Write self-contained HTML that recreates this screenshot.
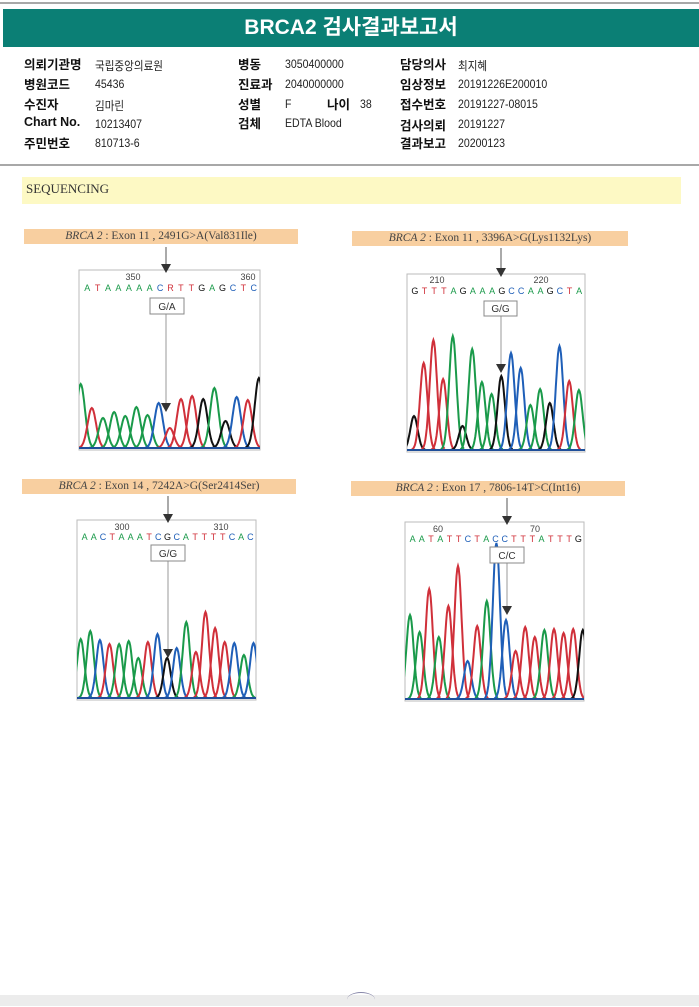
<!DOCTYPE html>
<html><head><meta charset="utf-8">
<style>
body{margin:0;width:699px;height:1006px;background:#fff;position:relative;overflow:hidden;font-family:"Liberation Sans","Noto Sans CJK KR",sans-serif;}
.abs{position:absolute;}
.hl{position:absolute;left:0;width:699px;height:2px;background:#a8a8a8;}
.lab{position:absolute;font-size:12.5px;font-weight:bold;color:#111;white-space:nowrap;}
.val{position:absolute;font-size:12px;color:#222;white-space:nowrap;transform:scaleX(.88);transform-origin:left;}
.cap{position:absolute;height:15px;background:#f8cfa0;font-family:"Liberation Serif",serif;font-size:11.5px;color:#444;text-align:center;line-height:15px;white-space:nowrap;}
.cap i{font-style:italic;}
</style></head><body>
<div class="hl" style="top:2px"></div>
<div class="abs" style="left:3px;top:9px;width:696px;height:38px;background:#0b7f75;color:#fff;font-weight:bold;font-size:21px;text-align:center;line-height:38px;">BRCA2 검사결과보고서</div>

<div>
<div class="lab" style="left:24px;top:54px">의뢰기관명</div><div class="val" style="left:95px;top:57px">국립중앙의료원</div>
<div class="lab" style="left:24px;top:74px">병원코드</div><div class="val" style="left:95px;top:77px">45436</div>
<div class="lab" style="left:24px;top:94px">수진자</div><div class="val" style="left:95px;top:97px">김마린</div>
<div class="lab" style="left:24px;top:115px">Chart No.</div><div class="val" style="left:95px;top:117px">10213407</div>
<div class="lab" style="left:24px;top:133px">주민번호</div><div class="val" style="left:95px;top:136px">810713-6</div>
<div class="lab" style="left:238px;top:54px">병동</div><div class="val" style="left:285px;top:57px">3050400000</div>
<div class="lab" style="left:238px;top:74px">진료과</div><div class="val" style="left:285px;top:77px">2040000000</div>
<div class="lab" style="left:238px;top:94px">성별</div><div class="val" style="left:285px;top:97px">F</div>
<div class="lab" style="left:327px;top:94px">나이</div><div class="val" style="left:360px;top:97px">38</div>
<div class="lab" style="left:238px;top:113px">검체</div><div class="val" style="left:285px;top:116px">EDTA Blood</div>
<div class="lab" style="left:400px;top:54px">담당의사</div><div class="val" style="left:458px;top:57px">최지혜</div>
<div class="lab" style="left:400px;top:74px">임상정보</div><div class="val" style="left:458px;top:77px">20191226E200010</div>
<div class="lab" style="left:400px;top:94px">접수번호</div><div class="val" style="left:458px;top:97px">20191227-08015</div>
<div class="lab" style="left:400px;top:115px">검사의뢰</div><div class="val" style="left:458px;top:117px">20191227</div>
<div class="lab" style="left:400px;top:133px">결과보고</div><div class="val" style="left:458px;top:136px">20200123</div>
</div>
<div class="hl" style="top:164px"></div>
<div class="abs" style="left:22px;top:177px;width:659px;height:27px;background:#fdf9c4;font-family:'Liberation Serif',serif;font-size:13px;color:#333;line-height:24px;padding-left:4px;box-sizing:border-box;">SEQUENCING</div>

<div class="cap" style="left:24px;top:229px;width:274px"><i>BRCA 2</i> : Exon 11 , 2491G&gt;A(Val831Ile)</div>
<div class="cap" style="left:352px;top:231px;width:276px"><i>BRCA 2</i> : Exon 11 , 3396A&gt;G(Lys1132Lys)</div>
<div class="cap" style="left:22px;top:479px;width:274px"><i>BRCA 2</i> : Exon 14 , 7242A&gt;G(Ser2414Ser)</div>
<div class="cap" style="left:351px;top:481px;width:274px"><i>BRCA 2</i> : Exon 17 , 7806-14T&gt;C(Int16)</div>

<svg class="abs" style="left:0;top:0" width="699" height="1006" id="chroma"></svg>

<div class="abs" style="left:0;top:995px;width:699px;height:11px;background:#ececec;"></div>
<div class="abs" style="left:347px;top:992px;width:28px;height:14px;border-top:1.5px solid #8888aa;border-radius:50% 50% 0 0;"></div>

<script>
// Panel 1 data
const p1Bases = ["A","T","A","A","A","A","A","C","R","T","T","G","A","G","C","T","G"];
const p1Heights = [64,40,30,36,32,41,33,45,20,49,52,49,60,27,51,48,70];
const p1Seq = "ATAAAAACRTTGAGCTC";
const p1Ticks = ["350","360"];
// Panel 2 data
const p2Bases = ["G","T","T","T","A","G","A","A","A","G","C","C","A","A","G","C","T","A"];
const p2Heights = [34,87,110,71,114,24,101,68,56,74,97,82,45,61,47,104,69,60];
const p2Seq = "GTTTAGAAAGCCAAGCTA";
const p2Ticks = ["210","220"];
// Panel 3 data
const p3Bases = ["A","A","C","T","A","A","A","T","C","G","C","A","T","T","T","T","C","A","C"];
const p3Heights = [59,67,58,54,54,57,40,56,64,40,50,76,46,86,70,56,55,43,55];
const p3Seq = "AACTAAATCGCATTTTCAC";
const p3Ticks = ["300","310"];
// Panel 4 data
const p4Bases = ["A","A","T","A","T","T","C","T","A","C","C","T","T","T","A","T","T","T","G"];
const p4Heights = [84,67,110,62,93,133,38,73,98,156,79,48,72,62,69,70,66,70,69];
const p4Seq = "AATATTCTACCTTTATTTG";
const p4Ticks = ["60","70"];

const colorOf = {A:"#1a9a4a",T:"#d0303a",C:"#1f5fb8",G:"#111",R:"#d0303a"};
const NS="http://www.w3.org/2000/svg";
const svg=document.getElementById('chroma');
function mk(tag,attrs,parent){const e=document.createElementNS(NS,tag);for(const k in attrs)e.setAttribute(k,attrs[k]);(parent||svg).appendChild(e);return e;}

const panels=[
 {bases:p1Bases,h:p1Heights,seq:p1Seq,ticks:p1Ticks,tickX:[133,248],box:[79,270,181,180],x0:80.7,dx:11.14,seqY:291,tickY:280,arrowX:166,capB:245,geno:"G/A",gBox:[150,298,34,16],tri:412},
 {bases:p2Bases,h:p2Heights,seq:p2Seq,ticks:p2Ticks,tickX:[437,541],box:[407,274,178,178],x0:414,dx:9.7,seqY:294,tickY:283,arrowX:501,capB:246,geno:"G/G",gBox:[484,301,33,15],tri:373},
 {bases:p3Bases,h:p3Heights,seq:p3Seq,ticks:p3Ticks,tickX:[122,221],box:[77,520,179,180],x0:80.7,dx:9.6,seqY:540,tickY:530,arrowX:168,capB:494,geno:"G/G",gBox:[151,545,34,16],tri:658},
 {bases:p4Bases,h:p4Heights,seq:p4Seq,ticks:p4Ticks,tickX:[438,535],box:[405,522,179,179],x0:410,dx:9.6,seqY:542,tickY:532,arrowX:507,capB:496,geno:"C/C",gBox:[490,547,34,16],tri:615}
];
panels.forEach((p,pi)=>{
  const [bx,by,bw,bh]=p.box, base=by+bh-2;
  const g=mk('g',{});
  
  
  const frame=mk('rect',{x:bx,y:by,width:bw,height:bh,fill:'#fff',stroke:'#bbb','stroke-width':1},g);
  
  
  const cid='clip'+pi;
  const cp=mk('clipPath',{id:cid},g);mk('rect',{x:bx,y:by,width:bw,height:bh},cp);
  const pg=mk('g',{'clip-path':'url(#'+cid+')'},g);
  const xs=i=>p.x0+i*p.dx;
  const sig=p.dx*0.38;
  p.bases.forEach((b,i)=>{
    const cx=xs(i),hh=p.h[i];let d='';
    for(let t=-3.2;t<=3.2;t+=0.2){const x=cx+t*sig;const y=base-hh*Math.exp(-t*t/2);d+=(d?'L':'M')+x.toFixed(1)+' '+y.toFixed(1);}
    const path=mk('path',{d:d,fill:'none',stroke:colorOf[b],'stroke-width':2},pg);
    
    
  });
  mk('line',{x1:bx,y1:base,x2:bx+bw,y2:base,stroke:'#1f4f9a','stroke-width':2},pg);
  const n=p.seq.length,step=(bw-4)/n;
  for(let i=0;i<n;i++){const c=p.seq[i];const t=mk('text',{x:bx+3+step*(i+0.5),y:p.seqY,'font-size':9,'text-anchor':'middle',fill:colorOf[c]||'#111','font-family':'Liberation Sans, sans-serif'},g);t.textContent=c;
    }
  p.ticks.forEach((tk,i)=>{const t=mk('text',{x:p.tickX[i],y:p.tickY,'font-size':9,'text-anchor':'middle',fill:'#444','font-family':'Liberation Sans, sans-serif'},g);t.textContent=tk;
    });
  const ax=p.arrowX;
  mk('line',{x1:ax,y1:p.capB+2,x2:ax,y2:by,stroke:'#555','stroke-width':1},g);
  mk('path',{d:`M${ax-5} ${by-6}L${ax+5} ${by-6}L${ax} ${by+3}Z`,fill:'#333'},g);
  const [gx,gy,gw,gh]=p.gBox;
  mk('line',{x1:ax,y1:gy+gh,x2:ax,y2:p.tri-8,stroke:'#999','stroke-width':1},g);
  mk('path',{d:`M${ax-5} ${p.tri-9}L${ax+5} ${p.tri-9}L${ax} ${p.tri}Z`,fill:'#333'},g);
  mk('rect',{x:gx,y:gy,width:gw,height:gh,fill:'#fff',stroke:'#888','stroke-width':1},g);
  const gt=mk('text',{x:gx+gw/2,y:gy+gh-4,'font-size':10,'text-anchor':'middle',fill:'#333','font-family':'Liberation Sans, sans-serif'},g);
  gt.textContent=p.geno;
  
  
});
</script>
</body></html>
